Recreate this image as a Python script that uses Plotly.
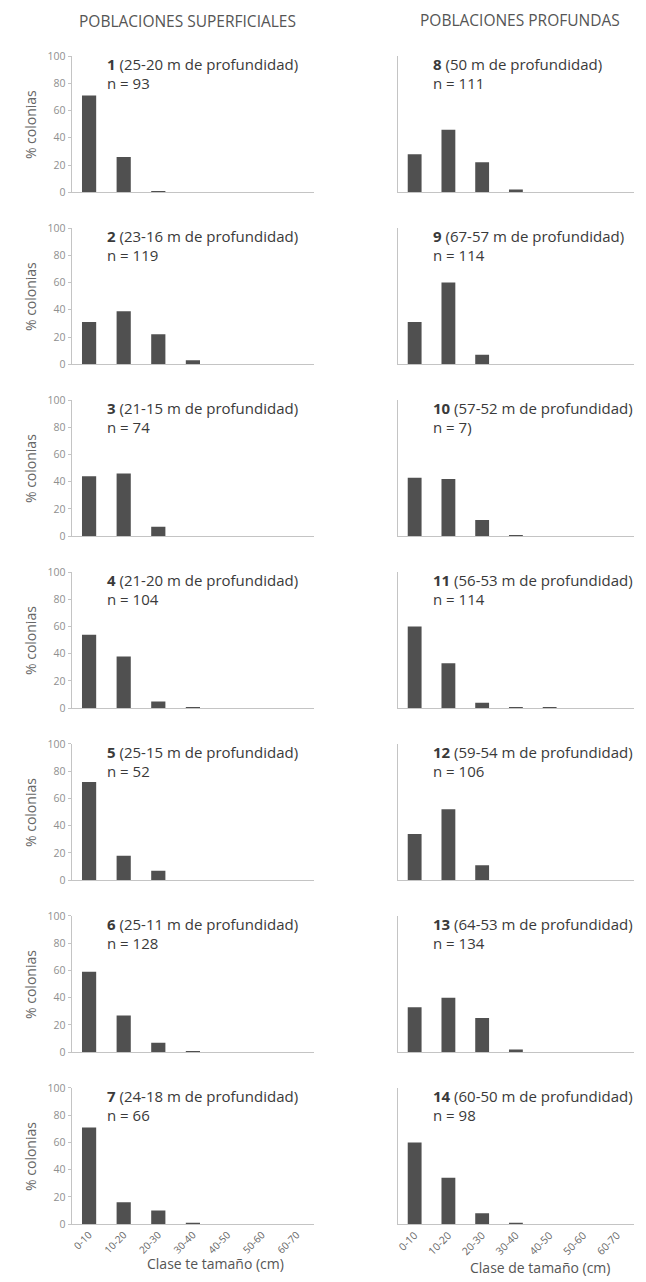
import plotly.graph_objects as go

categories = ["0-10", "10-20", "20-30", "30-40", "40-50", "50-60", "60-70"]

# Shallow populations (left column)
shallow_ids = [1, 2, 3, 4, 5, 6, 7]
shallow_depths = ["25-20", "23-16", "21-15", "21-20", "25-15", "25-11", "24-18"]
shallow_n = ["93", "119", "74", "104", "52", "128", "66"]
pop1 = [71, 26, 1, 0, 0, 0, 0]
pop2 = [31, 39, 22, 3, 0, 0, 0]
pop3 = [44, 46, 7, 0, 0, 0, 0]
pop4 = [54, 38, 5, 0.5, 0, 0, 0]
pop5 = [72, 18, 7, 0, 0, 0, 0]
pop6 = [59, 27, 7, 0.6, 0, 0, 0]
pop7 = [71, 16, 10, 1, 0, 0, 0]

# Deep populations (right column)
deep_ids = [8, 9, 10, 11, 12, 13, 14]
deep_depths = ["50", "67-57", "57-52", "56-53", "59-54", "64-53", "60-50"]
deep_n = ["111", "114", "7)", "114", "106", "134", "98"]
pop8 = [28, 46, 22, 2, 0, 0, 0]
pop9 = [31, 60, 7, 0, 0, 0, 0]
pop10 = [43, 42, 12, 1, 0, 0, 0]
pop11 = [60, 33, 4, 0.5, 0.5, 0, 0]
pop12 = [34, 52, 11, 0, 0, 0, 0]
pop13 = [33, 40, 25, 2, 0, 0, 0]
pop14 = [60, 34, 8, 1, 0, 0, 0]

shallow_vals = [pop1, pop2, pop3, pop4, pop5, pop6, pop7]
deep_vals = [pop8, pop9, pop10, pop11, pop12, pop13, pop14]

W, H = 646, 1282
# the photographed page maps figure y to 8 + 0.9875*y
Y_OFF, Y_SCALE = 8, 0.9875


def px(x):
    return x / W


def py(y):
    return 1 - ((y - Y_OFF) / Y_SCALE) / H


FONT = "Open Sans"
AXIS_COL = "#c4c4c4"
TXT = "#3a3a3a"

fig = go.Figure()
layout = dict(
    width=W, height=H, margin=dict(l=0, r=0, t=0, b=0),
    paper_bgcolor="white", plot_bgcolor="white", showlegend=False,
    font=dict(family=FONT, color=TXT),
    bargap=0.59,
)
annotations = []

cols = [
    (70, 313, shallow_ids, shallow_depths, shallow_n, shallow_vals, True,
     "Clase te tamaño (cm)", 214, 1262, 10),
    (397, 634, deep_ids, deep_depths, deep_n, deep_vals, False,
     "Clase de tamaño (cm)", 540, 1266, 10.5),
]

idx = 0
for (x0, x1, ids, depths, ns, vals, show_y, xtitle, xt_x, xt_y, tfs) in cols:
    for k in range(7):
        idx += 1
        top = 57 + k * 171.7
        bot = top + 136
        xa = "x" if idx == 1 else f"x{idx}"
        ya = "y" if idx == 1 else f"y{idx}"
        fig.add_trace(go.Bar(
            x=categories, y=vals[k], xaxis=xa, yaxis=ya,
            marker=dict(color="#505050", line=dict(width=0)),
        ))
        last = (k == 6)
        layout["xaxis" if idx == 1 else f"xaxis{idx}"] = dict(
            domain=[px(x0), px(x1)], anchor=ya,
            type="category", range=[-0.5, 6.5],
            showline=True, linecolor=AXIS_COL, linewidth=1.2,
            ticks="", showgrid=False, zeroline=False,
            showticklabels=last, tickangle=-45,
            tickfont=dict(size=tfs, color="#666666", family=FONT),
        )
        layout["yaxis" if idx == 1 else f"yaxis{idx}"] = dict(
            domain=[py(bot), py(top)], anchor=xa,
            range=[0, 100], tickvals=[0, 20, 40, 60, 80, 100],
            showline=True, linecolor=AXIS_COL, linewidth=1.2,
            ticks="outside" if show_y else "", ticklen=3, tickcolor=AXIS_COL,
            showgrid=False, zeroline=False,
            showticklabels=show_y,
            tickfont=dict(size=10.5, color="#8f8f8f", family=FONT),
        )
        annotations.append(dict(
            xref="paper", yref="paper",
            x=px(x0 + 33), y=py(top + 8),
            xanchor="left", yanchor="middle", showarrow=False,
            text=f"<b>{ids[k]}</b> ({depths[k]} m de profundidad)",
            font=dict(size=15, color=TXT, family=FONT),
        ))
        annotations.append(dict(
            xref="paper", yref="paper",
            x=px(x0 + 33), y=py(top + 27),
            xanchor="left", yanchor="middle", showarrow=False,
            text=f"n = {ns[k]}",
            font=dict(size=15, color=TXT, family=FONT),
        ))
        if show_y:
            annotations.append(dict(
                xref="paper", yref="paper",
                x=px(28), y=py(top + 68),
                xanchor="center", yanchor="middle", showarrow=False,
                text="% colonias", textangle=-90,
                font=dict(size=14, color="#666666", family=FONT),
            ))
    annotations.append(dict(
        xref="paper", yref="paper",
        x=px(xt_x), y=py(xt_y),
        xanchor="center", yanchor="middle", showarrow=False,
        text=xtitle, font=dict(size=14, color="#555555", family=FONT),
    ))

annotations.append(dict(
    xref="paper", yref="paper", x=px(186), y=py(22),
    xanchor="center", yanchor="middle", showarrow=False,
    text="POBLACIONES SUPERFICIALES", font=dict(size=15.5, color="#555555", family=FONT),
))
annotations.append(dict(
    xref="paper", yref="paper", x=px(520), y=py(21),
    xanchor="center", yanchor="middle", showarrow=False,
    text="POBLACIONES PROFUNDAS", font=dict(size=15.5, color="#555555", family=FONT),
))

layout["annotations"] = annotations
fig.update_layout(**layout)

post = (
    "document.documentElement.style.margin='0';"
    "document.body.style.margin='0';"
    "document.body.style.overflow='hidden';"
)
fig.write_html("out.html", config={"displayModeBar": False}, post_script=post)
